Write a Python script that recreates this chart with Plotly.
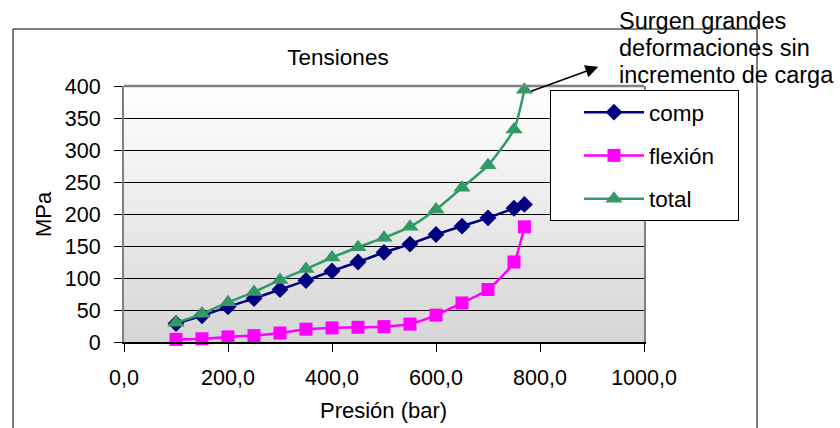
import base64
import plotly.graph_objects as go

# ---- data ----
presion = [100, 150, 200, 250, 300, 350, 400, 450, 500, 550, 600, 650, 700, 750, 770]
comp    = [29, 41, 55, 68, 82, 96, 111, 125, 140, 153, 168, 181, 194, 209, 215]
flexion = [4, 5, 8, 10, 14, 20, 22, 23, 24, 28, 42, 61, 82, 125, 180]
total   = [30, 44, 62, 78, 97, 114, 132, 148, 163, 180, 207, 241, 276, 332, 394]

series_names = ["comp", "flexión", "total"]
x_ticks = [0, 200, 400, 600, 800, 1000]
y_ticks = [0, 50, 100, 150, 200, 250, 300, 350, 400]
note_lines = ["Surgen grandes", "deformaciones sin", "incremento de carga"]

FONT = "Liberation Sans, Arial, sans-serif"
W, H = 840, 428
L, R, T, B = 124, 196, 86, 86
PW, PH = W - L - R, H - T - B


def px_x(p):
    return (p - L) / PW


def px_y(p):
    return (H - B - p) / PH


fig = go.Figure()
styles = [
    dict(color="#000080", symbol="diamond", size=13),
    dict(color="#FF00FF", symbol="square", size=13),
    dict(color="#339966", symbol="triangle-up", size=15),
]
pad = "\u00a0" * 3
for name, ys, st in zip(series_names, [comp, flexion, total], styles):
    fig.add_trace(go.Scatter(
        x=presion, y=ys, name=name + pad, mode="lines+markers",
        legendgroup=name,
        line=dict(color=st["color"], width=2.5, shape="spline", smoothing=0.6),
        marker=dict(color=st["color"], symbol=st["symbol"], size=st["size"], line=dict(width=0)),
        cliponaxis=False,
    ))

svg = ('<svg xmlns="http://www.w3.org/2000/svg" width="100" height="100" preserveAspectRatio="none">'
       '<defs><linearGradient id="g" x1="0" y1="0" x2="0" y2="1">'
       '<stop offset="0" stop-color="#ffffff"/><stop offset="1" stop-color="#d6d6d6"/>'
       '</linearGradient></defs><rect width="100" height="100" fill="url(#g)"/></svg>')
grad = "data:image/svg+xml;base64," + base64.b64encode(svg.encode()).decode()

annotations = [
    dict(text="MPa", xref="paper", yref="paper", x=px_x(43), y=px_y(214),
         textangle=-90, showarrow=False, font=dict(size=22, family=FONT),
         xanchor="center", yanchor="middle"),
    dict(text="Presión (bar)", xref="paper", yref="paper", x=px_x(383), y=px_y(410),
         showarrow=False, font=dict(size=22, family=FONT),
         xanchor="center", yanchor="middle"),
    dict(text="", xref="x", yref="y", x=912, y=430,
         axref="x", ayref="y", ax=presion[-1] + 10, ay=total[-1] - 3,
         showarrow=True, arrowhead=2, arrowsize=1.6, arrowwidth=1.6,
         arrowcolor="black", standoff=0, startstandoff=0),
]
for line, yc in zip(note_lines, [21, 48, 75]):
    annotations.append(dict(text=line, xref="paper", yref="paper", x=px_x(617), y=px_y(yc),
                            xanchor="left", yanchor="middle", showarrow=False,
                            font=dict(size=23.5, family=FONT)))

fig.update_layout(
    width=W, height=H,
    margin=dict(l=L, r=R, t=T, b=B),
    paper_bgcolor="white",
    plot_bgcolor="rgba(0,0,0,0)",
    separators=",.",
    font=dict(family=FONT, size=21.5, color="black"),
    title=dict(text="Tensiones", x=px_x(338), xref="paper", xanchor="center",
               y=1 - 57 / H, yref="container", yanchor="middle",
               font=dict(size=22.5, family=FONT, color="black")),
    xaxis=dict(range=[0, 1000], tickvals=x_ticks, tickformat=".1f",
               showgrid=False, zeroline=False,
               showline=True, linecolor="black", linewidth=1.5,
               ticks="outside", ticklen=8, tickcolor="black", tickwidth=1,
               ticklabelstandoff=7, tickfont=dict(size=21.5)),
    yaxis=dict(range=[0, 400], tickvals=y_ticks,
               showgrid=True, gridcolor="black", gridwidth=1, zeroline=False,
               showline=True, linecolor="#808080", linewidth=2, mirror=True,
               ticks="outside", ticklen=8, tickcolor="black", tickwidth=1,
               ticklabelstandoff=9, tickfont=dict(size=21.5)),
    legend=dict(x=px_x(550), y=px_y(90), xanchor="left", yanchor="top",
                bgcolor="white", bordercolor="black", borderwidth=1,
                font=dict(size=22.5, family=FONT), tracegroupgap=11,
                traceorder="grouped", itemwidth=60, indentation=28),
    images=[dict(source=grad, xref="paper", yref="paper", x=0, y=1, sizex=1, sizey=1,
                 xanchor="left", yanchor="top", sizing="stretch", layer="below")],
    shapes=[
        dict(type="rect", xref="paper", yref="paper",
             x0=px_x(13), x1=px_x(757), y0=px_y(445), y1=px_y(29),
             line=dict(color="black", width=1), fillcolor="rgba(0,0,0,0)", layer="below"),
        dict(type="line", xref="paper", yref="paper", x0=0, x1=1, y0=1, y1=1,
             line=dict(color="#808080", width=2.5)),
    ],
    annotations=annotations,
)

fig.write_html("out.html")
